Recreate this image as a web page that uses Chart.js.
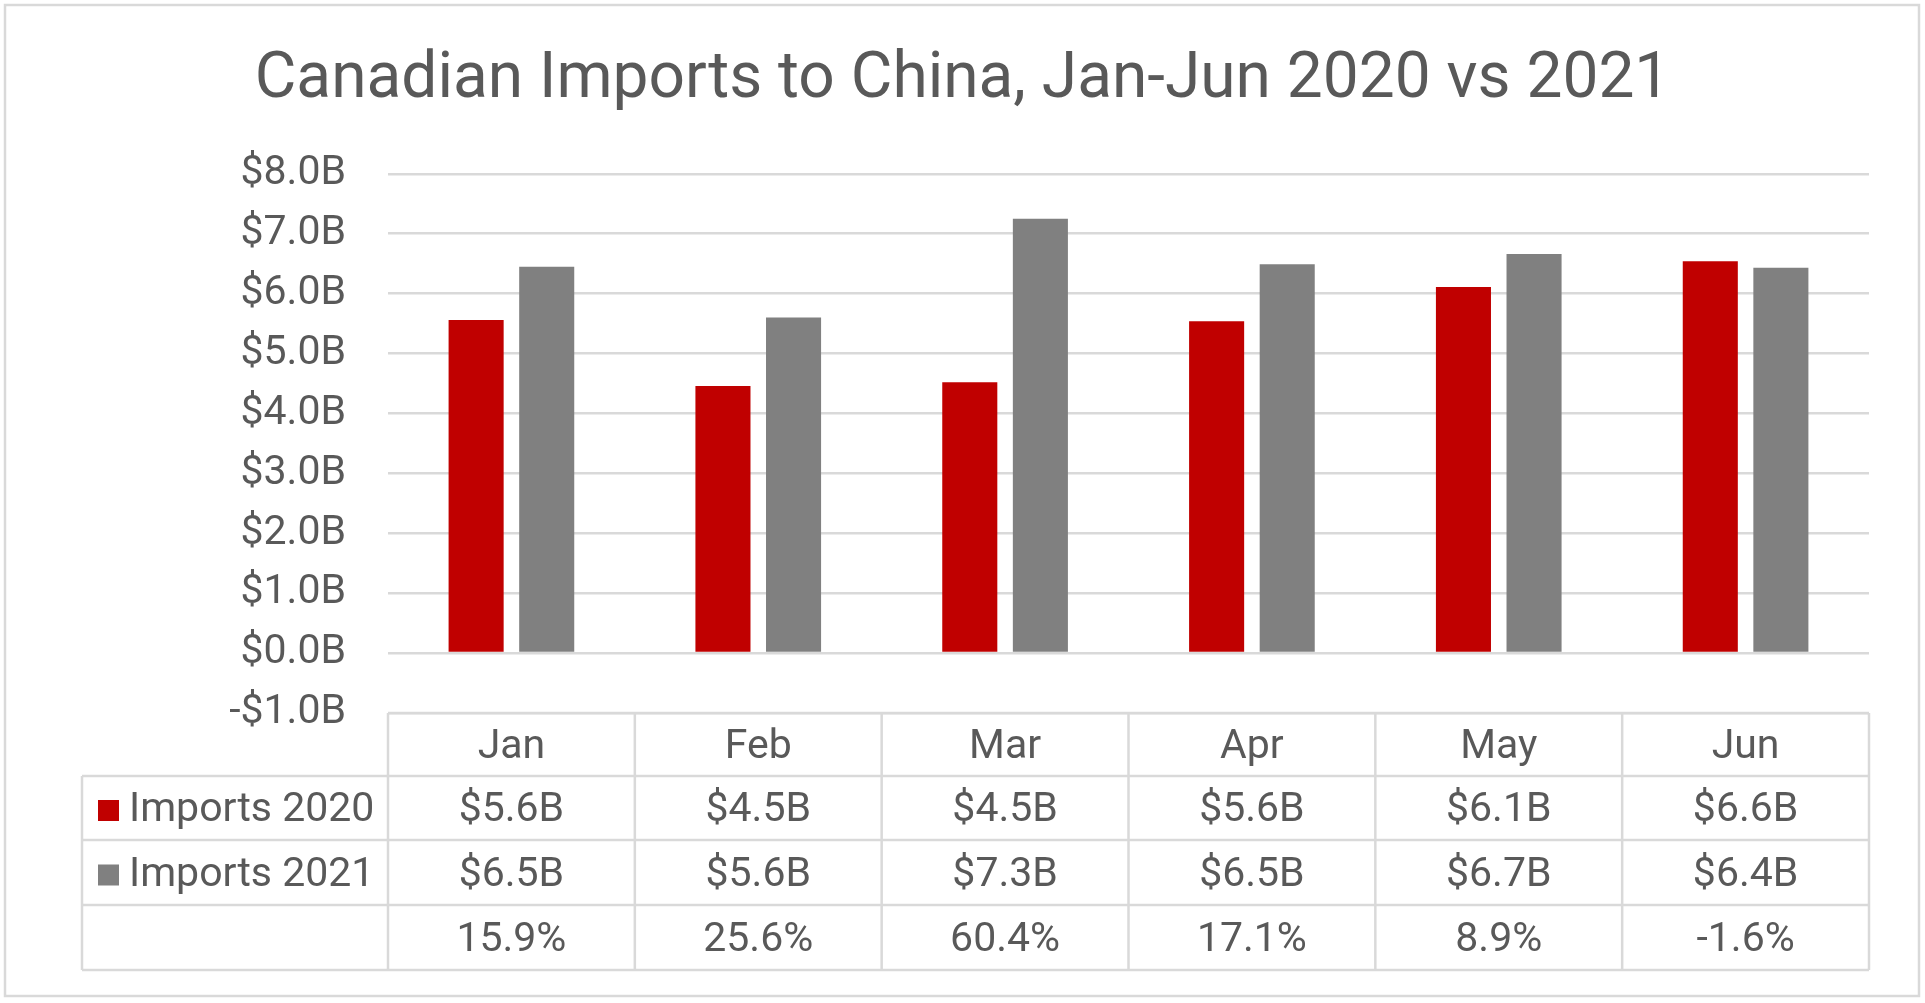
<!DOCTYPE html>
<html>
<head>
<meta charset="utf-8">
<script src="https://cdn.jsdelivr.net/npm/chart.js@4.4.1/dist/chart.umd.min.js"></script>
<style>
  html, body { margin: 0; padding: 0; background: #fff; }
</style>
</head>
<body>
<canvas id="chart" width="1925" height="1003"></canvas>
<script>
const months = ["Jan", "Feb", "Mar", "Apr", "May", "Jun"];
const imports2020 = [5.56, 4.46, 4.52, 5.54, 6.11, 6.54];
const imports2021 = [6.45, 5.60, 7.25, 6.49, 6.66, 6.43];
const labels2020 = ["$5.6B", "$4.5B", "$4.5B", "$5.6B", "$6.1B", "$6.6B"];
const labels2021 = ["$6.5B", "$5.6B", "$7.3B", "$6.5B", "$6.7B", "$6.4B"];
const changeLabels = ["15.9%", "25.6%", "60.4%", "17.1%", "8.9%", "-1.6%"];

const RED = "#C00000";
const GRAY = "#808080";
const LINE = "#D9D9D9";
const TEXT = "#595959";
const FONT = "Roboto";

// outer frame around the whole chart
const framePlugin = {
    id: "frame",
    beforeDraw(chart) {
        const { ctx } = chart;
        ctx.save();
        ctx.fillStyle = "#fff";
        ctx.fillRect(0, 0, chart.width, chart.height);
        ctx.strokeStyle = LINE;
        ctx.lineWidth = 2.5;
        ctx.strokeRect(5, 5, 1914, 991);
        ctx.restore();
    },
};

// data table under the plot, takes its columns from the x scale
const tablePlugin = {
    id: "dataTable",
    afterDraw(chart) {
        const { ctx, chartArea, scales } = chart;
        const x = scales.x;
        const colW = chartArea.width / months.length;
        const top = chartArea.bottom;
        const rows = [top, top + 63, top + 127, top + 192, top + 257];
        const legendLeft = 82;
        const mid = (r) => (rows[r] + rows[r + 1]) / 2 + 3;

        ctx.save();
        ctx.strokeStyle = LINE;
        ctx.lineWidth = 2.5;
        ctx.beginPath();
        // header row only spans the month columns
        ctx.moveTo(chartArea.left, rows[0]);
        ctx.lineTo(chartArea.right, rows[0]);
        for (let r = 1; r < rows.length; r++) {
            ctx.moveTo(legendLeft, rows[r]);
            ctx.lineTo(chartArea.right, rows[r]);
        }
        ctx.moveTo(legendLeft, rows[1]);
        ctx.lineTo(legendLeft, rows[4]);
        for (let i = 0; i <= months.length; i++) {
            const px = chartArea.left + i * colW;
            ctx.moveTo(px, rows[0]);
            ctx.lineTo(px, rows[4]);
        }
        ctx.stroke();

        ctx.fillStyle = TEXT;
        ctx.font = `41px ${FONT}`;
        ctx.textAlign = "center";
        ctx.textBaseline = "middle";
        months.forEach((m, i) => {
            const cx = x.getPixelForValue(i);
            ctx.fillText(m, cx, mid(0));
            ctx.fillText(labels2020[i], cx, mid(1));
            ctx.fillText(labels2021[i], cx, mid(2));
            ctx.fillText(changeLabels[i], cx, mid(3));
        });

        // legend keys in the first column
        const keys = [
            { label: "Imports 2020", color: RED, y: mid(1) },
            { label: "Imports 2021", color: GRAY, y: mid(2) },
        ];
        ctx.textAlign = "left";
        keys.forEach((k) => {
            ctx.fillStyle = k.color;
            ctx.fillRect(98, k.y - 11, 21, 21);
            ctx.fillStyle = TEXT;
            ctx.fillText(k.label, 129, k.y);
        });
        ctx.restore();
    },
};

new Chart(document.getElementById("chart"), {
    type: "bar",
    data: {
        labels: months,
        datasets: [
            {
                label: "Imports 2020",
                data: imports2020,
                backgroundColor: RED,
                barPercentage: 0.78,
                categoryPercentage: 0.572,
            },
            {
                label: "Imports 2021",
                data: imports2021,
                backgroundColor: GRAY,
                barPercentage: 0.78,
                categoryPercentage: 0.572,
            },
        ],
    },
    options: {
        responsive: false,
        animation: false,
        layout: {
            padding: { left: 56, right: 56, top: 0, bottom: 290 },
        },
        plugins: {
            legend: { display: false },
            tooltip: { enabled: false },
            title: {
                display: true,
                text: "Canadian Imports to China, Jan-Jun 2020 vs 2021",
                color: TEXT,
                font: { family: FONT, size: 64, weight: "normal" },
                padding: { top: 43, bottom: 54 },
            },
        },
        scales: {
            x: {
                display: false,
            },
            y: {
                min: -1,
                max: 8,
                ticks: {
                    stepSize: 1,
                    padding: 42,
                    color: TEXT,
                    font: { family: FONT, size: 41 },
                    callback: (v) => (v < 0 ? "-$" + Math.abs(v).toFixed(1) : "$" + v.toFixed(1)) + "B",
                },
                grid: {
                    color: LINE,
                    lineWidth: 2.5,
                    drawTicks: false,
                },
                border: { display: false },
                afterFit(scale) {
                    scale.width = 332;
                },
            },
        },
    },
    plugins: [framePlugin, tablePlugin],
});
</script>
</body>
</html>
